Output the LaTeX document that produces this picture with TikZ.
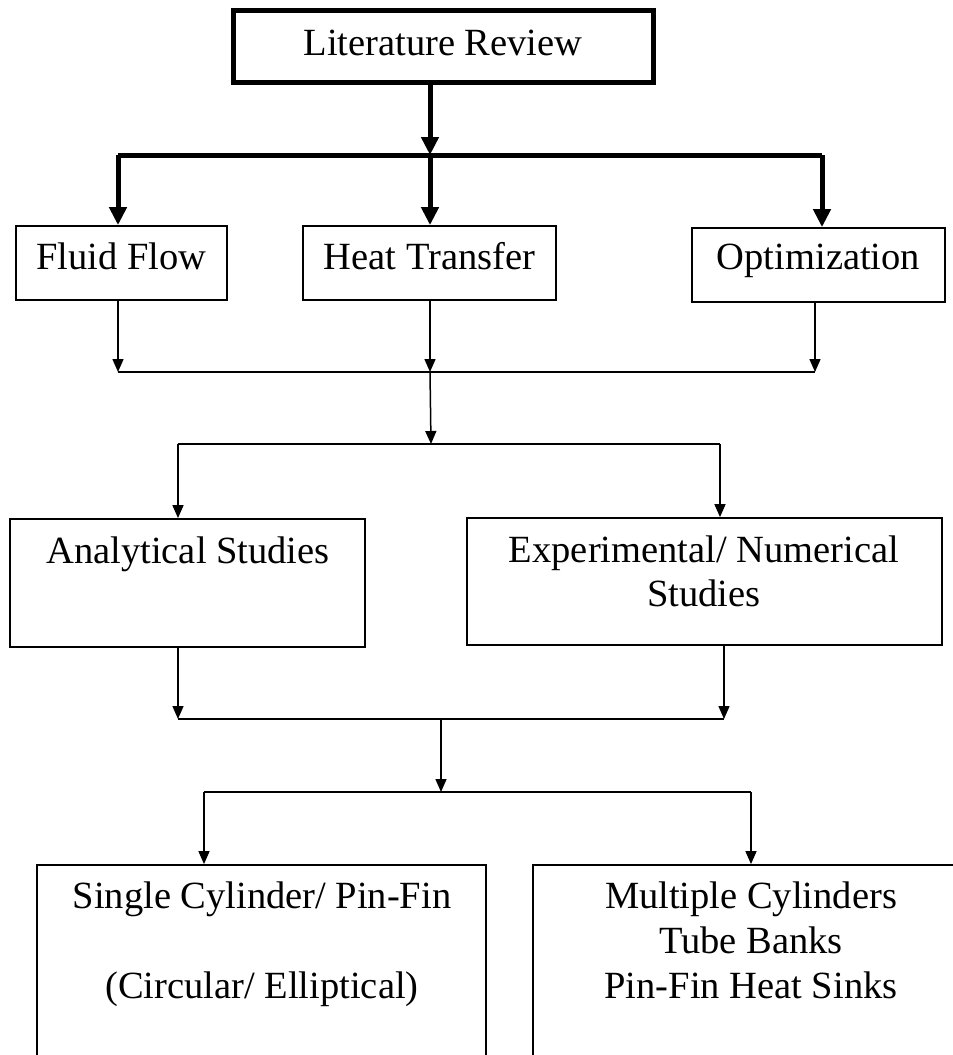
\documentclass[tikz,border=0pt]{standalone}
\usepackage{fontspec}
\setmainfont{Liberation Serif}
\usetikzlibrary{arrows.meta}
\begin{document}
\begin{tikzpicture}[x=1pt,y=-1pt,
  box/.style={draw,line width=1.8pt,inner sep=0pt},
  bigbox/.style={draw,line width=5pt,inner sep=0pt},
  lbl/.style={anchor=base,inner sep=0pt,font=\fontsize{38.5}{45}\selectfont},
  thinline/.style={line width=1.5pt},
  thinarr/.style={line width=1.5pt,-{Triangle[length=13pt,width=11pt]}},
  thickline/.style={line width=5pt},
  thickarr/.style={line width=5pt,-{Triangle[length=18pt,width=17pt]}}]
\useasboundingbox (0,0) rectangle (953,1055);
\clip (0,0) rectangle (953,1055);
% boxes
\node[bigbox,minimum width=420pt,minimum height=72pt] (lit) at (443,46) {};
\node[box,minimum width=211pt,minimum height=74pt] (ff) at (121.5,263) {};
\node[box,minimum width=253pt,minimum height=74pt] (ht) at (429.5,263) {};
\node[box,minimum width=253pt,minimum height=74pt] (opt) at (818.5,265) {};
\node[box,minimum width=355pt,minimum height=128pt] (ana) at (187.5,583) {};
\node[box,minimum width=475pt,minimum height=127pt] (exp) at (704.5,581.5) {};
\node[box,minimum width=449pt,minimum height=230pt] (sc) at (261.5,980) {};
\node[box,minimum width=480pt,minimum height=230pt] (mc) at (773,980) {};
% texts
\node[lbl] (tlit) at (443,55) {Literature Review};
\node[lbl] (tff) at (121.5,269) {Fluid Flow};
\node[lbl] (tht) at (429.5,269) {Heat Transfer};
\node[lbl] (topt) at (818.5,269) {Optimization};
\node[lbl] (tana) at (188,563) {Analytical Studies};
\node[lbl] (texp1) at (704,562) {Experimental/ Numerical};
\node[lbl] (texp2) at (704,606) {Studies};
\node[lbl] (tsc1) at (262,908) {Single Cylinder/ Pin-Fin};
\node[lbl] (tsc2) at (262,998) {(Circular/ Elliptical)};
\node[lbl] (tmc1) at (751,908) {Multiple Cylinders};
\node[lbl] (tmc2) at (751,953) {Tube Banks};
\node[lbl] (tmc3) at (751,998) {Pin-Fin Heat Sinks};
% junction coordinates
\coordinate (j1) at (430,155);
\coordinate (j1L) at (118,155);
\coordinate (j1R) at (822,155);
\coordinate (j2L) at (118,372);
\coordinate (j2M) at (430,372);
\coordinate (j2R) at (815,372);
\coordinate (j3M) at (431,444);
\coordinate (j3L) at (178,444);
\coordinate (j3R) at (720,444);
\coordinate (j4L) at (178,719);
\coordinate (j4M) at (441,719);
\coordinate (j4R) at (724,719);
\coordinate (j5M) at (441,792);
\coordinate (j5L) at (204,792);
\coordinate (j5R) at (751,792);
% thick connectors
\draw[thickarr] (j1 |- lit.south) -- (j1);
\draw[thickline] (j1L) -- (j1R);
\draw[thickarr] (j1L) -- (j1L |- ff.north);
\draw[thickarr] (j1) -- (j1 |- ht.north);
\draw[thickarr] (j1R) -- (j1R |- opt.north);
% second level
\draw[thinarr] (j2L |- ff.south) -- (j2L);
\draw[thinarr] (j2M |- ht.south) -- (j2M);
\draw[thinarr] (j2R |- opt.south) -- (j2R);
\draw[thinline] (j2L) -- (j2R);
\draw[thinarr] (j2M) -- (j3M);
\draw[thinline] (j3L) -- (j3R);
\draw[thinarr] (j3L) -- (j3L |- ana.north);
\draw[thinarr] (j3R) -- (j3R |- exp.north);
% third level
\draw[thinarr] (j4L |- ana.south) -- (j4L);
\draw[thinarr] (j4R |- exp.south) -- (j4R);
\draw[thinline] (j4L) -- (j4R);
\draw[thinarr] (j4M) -- (j5M);
\draw[thinline] (j5L) -- (j5R);
\draw[thinarr] (j5L) -- (j5L |- sc.north);
\draw[thinarr] (j5R) -- (j5R |- mc.north);
\end{tikzpicture}
\end{document}
